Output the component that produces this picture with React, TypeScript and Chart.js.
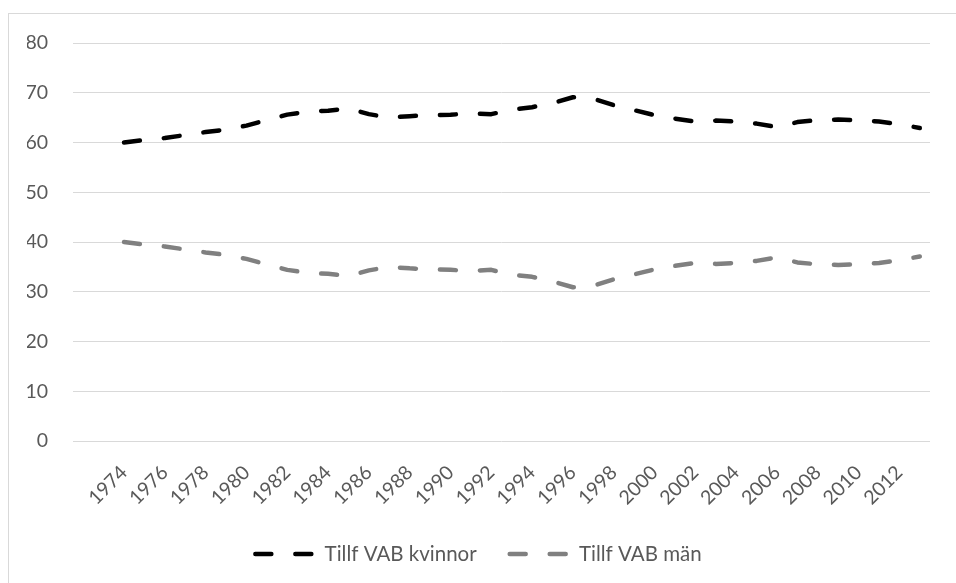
import React, { useEffect, useRef } from "react";
import { Chart, registerables } from "chart.js";
Chart.register(...registerables);

const years = [
  1974, 1975, 1976, 1977, 1978, 1979, 1980, 1981, 1982, 1983,
  1984, 1985, 1986, 1987, 1988, 1989, 1990, 1991, 1992, 1993,
  1994, 1995, 1996, 1997, 1998, 1999, 2000, 2001, 2002, 2003,
  2004, 2005, 2006, 2007, 2008, 2009, 2010, 2011, 2012, 2013,
];
const kvinnor = [
  60.0, 60.5, 60.9, 61.5, 62.1, 62.6, 63.4, 64.5, 65.6, 66.2,
  66.4, 66.8, 65.7, 65.0, 65.3, 65.5, 65.6, 65.8, 65.7, 66.6,
  67.1, 67.9, 69.1, 68.8, 67.5, 66.5, 65.5, 64.8, 64.2, 64.4,
  64.2, 63.8, 63.1, 64.1, 64.5, 64.6, 64.5, 64.2, 63.7, 62.9,
];
const man = [
  40.0, 39.5, 39.1, 38.5, 37.9, 37.4, 36.6, 35.5, 34.4, 33.8,
  33.6, 33.2, 34.3, 35.0, 34.7, 34.5, 34.4, 34.2, 34.4, 33.4,
  33.0, 32.1, 30.9, 31.2, 32.5, 33.5, 34.5, 35.2, 35.8, 35.6,
  35.8, 36.2, 36.9, 35.9, 35.5, 35.4, 35.5, 35.8, 36.3, 37.1,
];
const xTickYears = [
  1974, 1976, 1978, 1980, 1982, 1984, 1986, 1988, 1990, 1992,
  1994, 1996, 1998, 2000, 2002, 2004, 2006, 2008, 2010, 2012,
];
const yTicks = [0, 10, 20, 30, 40, 50, 60, 70, 80];
const seriesNames = ["Tillf VAB kvinnor", "Tillf VAB män"];

const FONT = { family: "Lato", size: 20.5 };
const TICK_FONT = { family: "Lato", size: 19.5 };
const TEXT = "#595959";

export default function App() {
  const ref = useRef<HTMLCanvasElement>(null);
  useEffect(() => {
    const chart = new Chart(ref.current as HTMLCanvasElement, {
      type: "line",
      data: {
        datasets: [
          {
            label: seriesNames[0],
            data: years.map((y, i) => ({ x: y, y: kvinnor[i] })),
            borderColor: "#000000",
            backgroundColor: "#000000",
            borderWidth: 4.5,
            borderDash: [16, 24],
            borderCapStyle: "round",
            borderJoinStyle: "round",
            pointRadius: 0,
            tension: 0,
            fill: false,
          },
          {
            label: seriesNames[1],
            data: years.map((y, i) => ({ x: y, y: man[i] })),
            borderColor: "#808080",
            backgroundColor: "#808080",
            borderWidth: 4.5,
            borderDash: [16, 24],
            borderCapStyle: "round",
            borderJoinStyle: "round",
            pointRadius: 0,
            tension: 0,
            fill: false,
          },
        ],
      },
      options: {
        animation: false,
        responsive: false,
        layout: { padding: { top: 29, right: 26, bottom: 8.75, left: 18 } },
        plugins: {
          tooltip: { enabled: false },
          legend: {
            position: "bottom",
            labels: {
              usePointStyle: true,
              pointStyle: "line",
              pointStyleWidth: 59,
              color: TEXT,
              font: FONT,
              padding: 33,
              generateLabels: (c: any) => {
                const items = (Chart.defaults as any).plugins.legend.labels.generateLabels(c);
                return items.map((it: any) => {
                  const ds: any = c.data.datasets[it.datasetIndex];
                  return {
                    ...it,
                    pointStyle: "line",
                    lineDash: ds.borderDash,
                    lineCap: ds.borderCapStyle,
                    lineWidth: ds.borderWidth,
                    strokeStyle: ds.borderColor,
                    fillStyle: ds.borderColor,
                    fontColor: TEXT,
                  };
                });
              },
            },
          },
        },
        scales: {
          x: {
            type: "linear",
            min: 1971.5,
            max: 2013.5,
            afterBuildTicks: (axis: any) => {
              axis.ticks = xTickYears.map((v) => ({ value: v }));
            },
            afterFit: (s: any) => {
              s.height = 69.75;
            },
            ticks: {
              autoSkip: false,
              minRotation: 45,
              maxRotation: 45,
              color: TEXT,
              font: TICK_FONT,
              padding: 12,
              callback: (v: any) => String(v),
            },
            grid: { display: false },
            border: { display: false },
          },
          y: {
            min: 0,
            max: 80,
            afterBuildTicks: (axis: any) => {
              axis.ticks = yTicks.map((v) => ({ value: v }));
            },
            afterFit: (s: any) => {
              s.width = 46;
              s.paddingTop = 0;
              s.paddingBottom = 0;
            },
            ticks: { color: TEXT, font: TICK_FONT, padding: 25 },
            grid: { color: "#d9d9d9", lineWidth: 1, drawTicks: false },
            border: { display: false },
          },
        },
      },
    } as any);
    return () => chart.destroy();
  }, []);
  return (
    <div
      style={{
        position: "fixed",
        left: 8,
        top: 13,
        width: 948,
        height: 570,
        borderLeft: "1px solid #d9d9d9",
        borderTop: "1px solid #d9d9d9",
        background: "#ffffff",
      }}
    >
      <canvas ref={ref} width={947} height={569} style={{ display: "block" }} />
    </div>
  );
}
